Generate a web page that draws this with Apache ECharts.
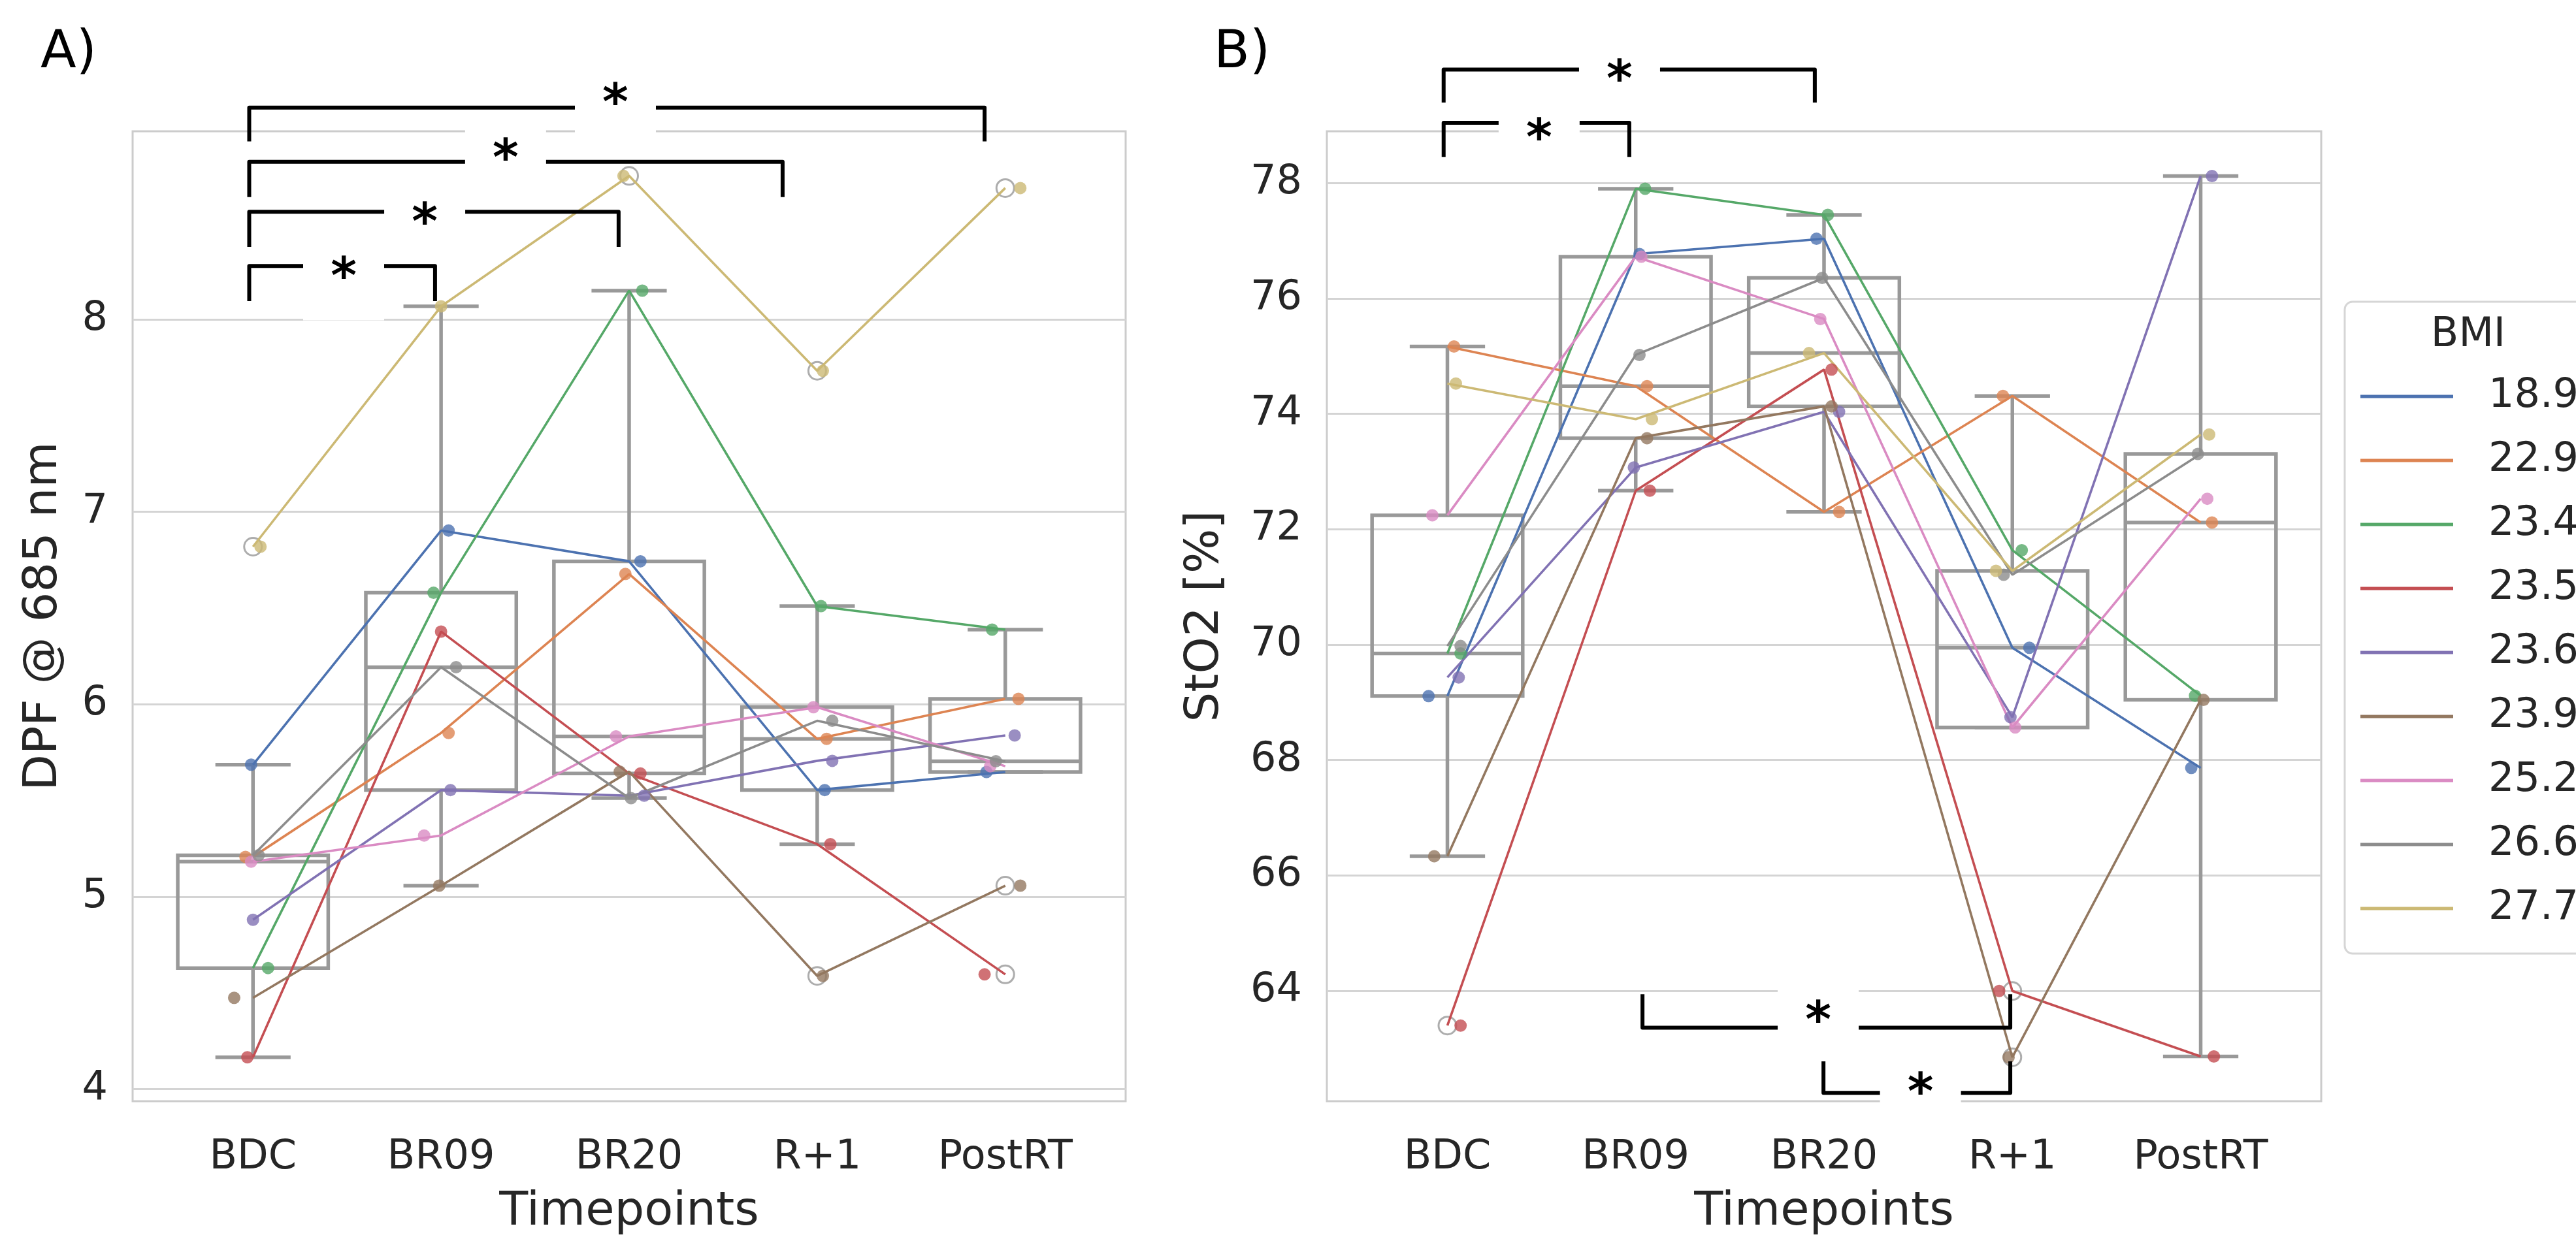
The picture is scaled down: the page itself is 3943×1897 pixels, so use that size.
<!DOCTYPE html>
<html><head><meta charset="utf-8">
<script src="https://cdn.jsdelivr.net/npm/echarts@6/dist/echarts.min.js"></script>
<style>html,body{margin:0;padding:0;background:#fff}#c{width:3943px;height:1897px}</style>
</head><body><div id="c"></div>
<script>
// ---------------- data ----------------
const timepoints = ['BDC', 'BR09', 'BR20', 'R+1', 'PostRT'];
const bmiLabels = ['18.9', '22.9', '23.4', '23.5', '23.6', '23.9', '25.2', '26.6', '27.7'];
const palette = ['#4C72B0', '#DD8452', '#55A868', '#C44E52', '#8172B3', '#937860', '#DA8BC3', '#8C8C8C', '#CCB974'];

// Panel A: DPF @ 685 nm, one row per subject (BMI order), columns = timepoints
const dpfValues = [
  [5.686, 6.903, 6.743, 5.554, 5.648],
  [5.207, 5.851, 6.677, 5.820, 6.028],
  [4.629, 6.580, 8.150, 6.510, 6.388],
  [4.165, 6.378, 5.640, 5.273, 4.596],
  [4.880, 5.554, 5.525, 5.706, 5.838],
  [4.474, 5.057, 5.650, 4.588, 5.057],
  [5.182, 5.318, 5.833, 5.985, 5.678],
  [5.215, 6.193, 5.512, 5.914, 5.704],
  [6.819, 8.068, 8.746, 7.733, 8.683]
];
// Panel B: StO2 [%]
const sto2Values = [
  [69.107, 76.768, 77.035, 69.944, 67.860],
  [75.166, 74.479, 72.299, 74.308, 72.115],
  [69.845, 77.900, 77.448, 71.635, 69.113],
  [63.395, 72.667, 74.766, 63.994, 62.860],
  [69.430, 73.068, 74.035, 68.740, 78.122],
  [66.331, 73.577, 74.129, 62.846, 69.040],
  [72.241, 76.724, 75.643, 68.563, 72.527],
  [69.974, 75.020, 76.355, 71.210, 73.304],
  [74.524, 73.907, 75.052, 71.277, 73.640]
];
// strip-plot jitter (category units)
const jitterDpf = [
  [-0.01, 0.04, 0.06, 0.04, -0.10],
  [-0.04, 0.04, -0.02, 0.05, 0.07],
  [0.08, -0.04, 0.07, 0.02, -0.07],
  [-0.03, 0.00, 0.06, 0.07, -0.11],
  [0.00, 0.05, 0.08, 0.08, 0.05],
  [-0.10, -0.01, -0.05, 0.03, 0.08],
  [-0.01, -0.09, -0.07, -0.02, -0.08],
  [0.03, 0.08, 0.01, 0.08, -0.05],
  [0.04, 0.00, -0.03, 0.03, 0.08]
];
const jitterSto2 = [
  [-0.10, 0.02, -0.04, 0.09, -0.05],
  [0.035, 0.06, 0.08, -0.05, 0.06],
  [0.07, 0.05, 0.02, 0.05, -0.03],
  [0.07, 0.075, 0.04, -0.07, 0.07],
  [0.06, -0.01, 0.08, -0.01, 0.06],
  [-0.07, 0.06, 0.04, -0.02, 0.015],
  [-0.08, 0.03, -0.02, 0.015, 0.035],
  [0.07, 0.02, -0.01, -0.046, -0.015],
  [0.045, 0.086, -0.08, -0.087, 0.045]
];
const yTicksA = [4, 5, 6, 7, 8];
const yTicksB = [64, 66, 68, 70, 72, 74, 76, 78];
const xTicks = [0, 1, 2, 3, 4];
// significance brackets: [xFrom, xTo, yLine, yEnd, starX, starY] in axis units
const bracketsA = [
  [-0.02, 3.890, 9.101, 8.925, 1.927, 9.171],
  [-0.02, 2.816, 8.819, 8.636, 1.343, 8.882],
  [-0.02, 1.944, 8.560, 8.377, 0.913, 8.550],
  [-0.02, 0.968, 8.278, 8.095, 0.482, 8.267]
];
const bracketsB = [
  [-0.02, 1.951, 79.966, 79.395, 0.914, 79.949],
  [-0.02, 0.966, 79.044, 78.454, 0.487, 78.930],
  [1.036, 2.989, 63.358, 63.938, 1.969, 63.635],
  [1.997, 2.989, 62.229, 62.776, 2.512, 62.388]
];

// ---------------- helpers ----------------
const FONT = 'DejaVu Sans';
const TXT = '#262626';
const BOXC = '#999999';

function quantile(s, p) {
  const pos = (s.length - 1) * p, lo = Math.floor(pos), hi = Math.ceil(pos);
  return s[lo] + (s[hi] - s[lo]) * (pos - lo);
}
function boxStats(rows) {
  const boxes = [], fliers = [];
  for (let t = 0; t < timepoints.length; t++) {
    const s = rows.map(r => r[t]).sort((a, b) => a - b);
    const q1 = quantile(s, 0.25), med = quantile(s, 0.5), q3 = quantile(s, 0.75), iqr = q3 - q1;
    const lo = q1 - 1.5 * iqr, hi = q3 + 1.5 * iqr;
    const inside = s.filter(v => v >= lo && v <= hi);
    boxes.push([t, Math.min(...inside), q1, med, q3, Math.max(...inside)]);
    s.filter(v => v < lo || v > hi).forEach(v => fliers.push([t, v]));
  }
  return { boxes, fliers };
}
function renderBox(params, api) {
  const x = api.value(0), wlo = api.value(1), q1 = api.value(2), med = api.value(3), q3 = api.value(4), whi = api.value(5);
  const hw = 0.4, cw = 0.2;
  const p = (a, b) => api.coord([a, b]);
  const st = { stroke: BOXC, lineWidth: 5.5, fill: null };
  const tl = p(x - hw, q3), br = p(x + hw, q1);
  const seg = (a, b) => ({ type: 'line', shape: { x1: a[0], y1: a[1], x2: b[0], y2: b[1] }, style: st });
  return {
    type: 'group', children: [
      seg(p(x, q3), p(x, whi)), seg(p(x - cw, whi), p(x + cw, whi)),
      seg(p(x, q1), p(x, wlo)), seg(p(x - cw, wlo), p(x + cw, wlo)),
      { type: 'rect', shape: { x: tl[0], y: tl[1], width: br[0] - tl[0], height: br[1] - tl[1] }, style: st },
      seg(p(x - hw, med), p(x + hw, med))
    ]
  };
}
const HALF_GAP = 62;
function renderBracketBg(params, api) {
  const L = api.coord([api.value(4), api.value(5)]);
  const opensUp = api.value(3) > api.value(2);
  return { type: 'rect', shape: { x: L[0] - HALF_GAP, y: L[1] - 40, width: 2 * HALF_GAP, height: opensUp ? 76 : 120 }, style: { fill: '#ffffff' } };
}
function renderBracket(params, api) {
  const x1 = api.value(0), x2 = api.value(1), yl = api.value(2), ye = api.value(3);
  const a = api.coord([x1, ye]), b = api.coord([x1, yl]), c = api.coord([x2, yl]), d = api.coord([x2, ye]);
  const L = api.coord([api.value(4), api.value(5)]);
  const st = { stroke: '#000', lineWidth: 6, fill: null, lineJoin: 'round' };
  return {
    type: 'group', children: [
      { type: 'polyline', shape: { points: [a, b, [L[0] - HALF_GAP, b[1]]] }, style: st },
      { type: 'polyline', shape: { points: [[L[0] + HALF_GAP, c[1]], c, d] }, style: st },
      { type: 'text', style: { text: '*', x: L[0], y: L[1] + 18, fill: '#000', fontSize: 76, fontWeight: 'bold', fontFamily: FONT, align: 'center', verticalAlign: 'middle' } }
    ]
  };
}

function panelSeries(rows, jit, idx, brackets) {
  const out = [];
  const st = boxStats(rows);
  out.push({ type: 'custom', xAxisIndex: idx, yAxisIndex: idx, z: 2, renderItem: renderBracketBg, data: brackets, clip: false, silent: true, encode: { x: [0, 1, 4], y: [2, 3, 5] } });
  out.push({ type: 'custom', xAxisIndex: idx, yAxisIndex: idx, z: 3, renderItem: renderBox, data: st.boxes, silent: true, encode: { x: 0, y: [1, 2, 3, 4, 5] } });
  out.push({ type: 'scatter', xAxisIndex: idx, yAxisIndex: idx, z: 4, symbol: 'circle', symbolSize: 27, data: st.fliers, silent: true,
    itemStyle: { color: 'rgba(0,0,0,0)', borderColor: BOXC, borderWidth: 3 } });
  rows.forEach((r, i) => {
    out.push({ type: 'line', name: bmiLabels[i], xAxisIndex: idx, yAxisIndex: idx, z: 5, color: palette[i],
      showSymbol: false, symbol: 'none', lineStyle: { width: 3.6, color: palette[i] },
      data: r.map((v, t) => [t, v]) });
  });
  rows.forEach((r, i) => {
    out.push({ type: 'scatter', name: bmiLabels[i], xAxisIndex: idx, yAxisIndex: idx, z: 6, color: palette[i],
      symbol: 'circle', symbolSize: 19, itemStyle: { color: palette[i] },
      data: r.map((v, t) => [t + jit[i][t], v]) });
  });
  out.push({ type: 'custom', xAxisIndex: idx, yAxisIndex: idx, z: 8, renderItem: renderBracket, data: brackets, clip: false, silent: true, encode: { x: [0, 1, 4], y: [2, 3, 5] } });
  return out;
}

function xAxisCfg(gi) {
  return {
    type: 'value', gridIndex: gi, min: -0.64, max: 4.64,
    axisLine: { show: false }, axisTick: { show: false, customValues: xTicks }, splitLine: { show: false },
    axisLabel: { customValues: xTicks, formatter: v => timepoints[Math.round(v)], fontSize: 62, color: TXT, fontFamily: FONT, margin: 56 },
    name: 'Timepoints', nameLocation: 'middle', nameGap: 134,
    nameTextStyle: { fontSize: 72, color: TXT, fontFamily: FONT }
  };
}
function yAxisCfg(gi, min, max, ticks, name, gap) {
  return {
    type: 'value', gridIndex: gi, min, max,
    axisLine: { show: false }, axisTick: { show: false, customValues: ticks },
    splitLine: { show: true, lineStyle: { color: '#d4d4d4', width: 3 } },
    axisLabel: { customValues: ticks, fontSize: 62, color: TXT, fontFamily: FONT, margin: 38 },
    name, nameLocation: 'middle', nameGap: gap, nameRotate: 90,
    nameTextStyle: { fontSize: 72, color: TXT, fontFamily: FONT }
  };
}

const chart = echarts.init(document.getElementById('c'), null, { renderer: 'canvas' });
chart.setOption({
  animation: false,
  backgroundColor: '#ffffff',
  textStyle: { fontFamily: FONT },
  grid: [
    { left: 203, top: 201, width: 1520, height: 1518, show: true, borderColor: '#cccccc', borderWidth: 3, backgroundColor: 'rgba(0,0,0,0)' },
    { left: 2031, top: 201, width: 1522, height: 1518, show: true, borderColor: '#cccccc', borderWidth: 3, backgroundColor: 'rgba(0,0,0,0)' }
  ],
  xAxis: [xAxisCfg(0), xAxisCfg(1)],
  yAxis: [
    yAxisCfg(0, 3.937, 8.978, yTicksA, 'DPF @ 685 nm', 100),
    yAxisCfg(1, 62.084, 78.897, yTicksB, 'StO2 [%]', 150)
  ],
  legend: {
    data: bmiLabels.map(n => ({ name: n, icon: 'rect' })),
    orient: 'vertical', left: 3589, top: 462,
    padding: [96, 140, 20, 24],
    itemWidth: 142, itemHeight: 5, itemGap: 0,
    backgroundColor: '#ffffff', borderColor: '#d6d6d6', borderWidth: 3, borderRadius: 12,
    selectedMode: false,
    textStyle: { fontSize: 62, color: TXT, fontFamily: FONT, lineHeight: 98, padding: [0, 0, 0, 49] }
  },
  graphic: [
    { type: 'text', left: 62, top: 42, style: { text: 'A)', fontSize: 80, fill: '#000', fontFamily: FONT } },
    { type: 'text', left: 1858, top: 42, style: { text: 'B)', fontSize: 80, fill: '#000', fontFamily: FONT } },
    { type: 'text', x: 3778, y: 514, z: 100, style: { text: 'BMI', fontSize: 62, fill: TXT, fontFamily: FONT, align: 'center', verticalAlign: 'middle' } }
  ],
  series: [].concat(panelSeries(dpfValues, jitterDpf, 0, bracketsA), panelSeries(sto2Values, jitterSto2, 1, bracketsB))
});
</script>
</body></html>
